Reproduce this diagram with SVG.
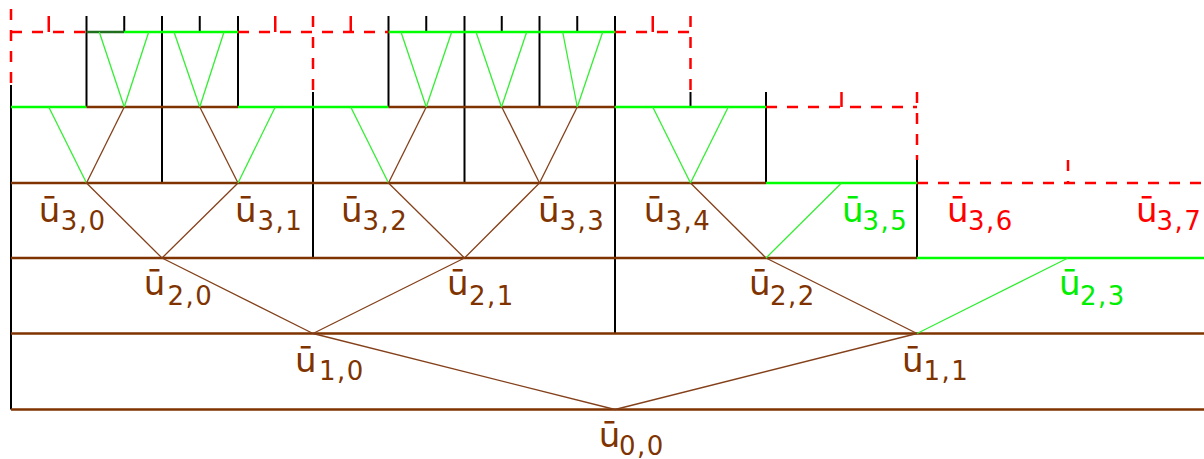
<svg xmlns="http://www.w3.org/2000/svg" width="1204" height="459" viewBox="0 0 1204 459">
<style>
.hb{stroke:#7f3300;stroke-width:2.6;fill:none}
.hg{stroke:#00ff00;stroke-width:2.6;fill:none}
.hdg{stroke:#1f6f1f;stroke-width:2.6;fill:none}
.k{stroke:#000;stroke-width:2;fill:none}
.r{stroke:#ff0000;stroke-width:2.5;fill:none;stroke-dasharray:11 10}
.rs{stroke:#ff0000;stroke-width:2.5;fill:none}
.db{stroke:#84401a;stroke-width:1.3;fill:none}
.dg{stroke:#33ee33;stroke-width:1.3;fill:none}
.t{font-family:"DejaVu Sans",Verdana,sans-serif}
.u{font-size:34px}
.s{font-size:26px;letter-spacing:1.5px}
.cb{fill:#7f3300}
.cg{fill:#00ee00}
.cr{fill:#ff0000}
</style>
<rect width="1204" height="459" fill="#fff"/>
<g id="grid">
  <line class="k" x1="11" y1="85" x2="11" y2="409.5"/>
  <line class="k" x1="86.5" y1="16" x2="86.5" y2="107"/>
  <line class="k" x1="124.25" y1="16" x2="124.25" y2="32"/>
  <line class="k" x1="162" y1="16" x2="162" y2="183"/>
  <line class="k" x1="199.75" y1="16" x2="199.75" y2="32"/>
  <line class="k" x1="238" y1="16" x2="238" y2="107"/>
  <line class="k" x1="313" y1="92" x2="313" y2="258"/>
  <line class="k" x1="388.5" y1="16" x2="388.5" y2="107"/>
  <line class="k" x1="426.25" y1="16" x2="426.25" y2="32"/>
  <line class="k" x1="464.5" y1="16" x2="464.5" y2="183"/>
  <line class="k" x1="501.75" y1="16" x2="501.75" y2="32"/>
  <line class="k" x1="539.5" y1="16" x2="539.5" y2="107"/>
  <line class="k" x1="577.25" y1="16" x2="577.25" y2="32"/>
  <line class="k" x1="615" y1="16" x2="615" y2="333.5"/>
  <line class="k" x1="690.5" y1="92" x2="690.5" y2="107"/>
  <line class="k" x1="766" y1="92" x2="766" y2="183"/>
  <line class="k" x1="917" y1="160" x2="917" y2="258"/>
  <line class="hb" x1="11" y1="409.5" x2="1204" y2="409.5"/>
  <line class="hb" x1="11" y1="333.5" x2="1204" y2="333.5"/>
  <line class="hb" x1="11" y1="258" x2="917" y2="258"/>
  <line class="hg" x1="917" y1="258" x2="1204" y2="258"/>
  <line class="hb" x1="11" y1="183" x2="766" y2="183"/>
  <line class="hg" x1="766" y1="183" x2="917" y2="183"/>
  <line class="hg" x1="11" y1="107" x2="86.5" y2="107"/>
  <line class="hb" x1="86.5" y1="107" x2="238" y2="107"/>
  <line class="hg" x1="238" y1="107" x2="388.5" y2="107"/>
  <line class="hb" x1="388.5" y1="107" x2="615" y2="107"/>
  <line class="hg" x1="615" y1="107" x2="766" y2="107"/>
  <line class="hdg" x1="86.5" y1="32" x2="124.25" y2="32"/>
  <line class="hg" x1="124.25" y1="32" x2="238" y2="32"/>
  <line class="hg" x1="388.5" y1="32" x2="615" y2="32"/>
  <line class="r" x1="11" y1="32" x2="86.5" y2="32"/>
  <line class="r" x1="11" y1="9" x2="11" y2="85"/>
  <line class="rs" x1="48.75" y1="16" x2="48.75" y2="32"/>
  <line class="r" x1="238" y1="32" x2="388.5" y2="32"/>
  <line class="rs" x1="275.25" y1="16" x2="275.25" y2="32"/>
  <line class="r" x1="313" y1="16" x2="313" y2="92"/>
  <line class="rs" x1="350.75" y1="16" x2="350.75" y2="32"/>
  <line class="r" x1="615" y1="32" x2="690.5" y2="32"/>
  <line class="rs" x1="652.75" y1="16" x2="652.75" y2="32"/>
  <line class="r" x1="690.5" y1="16" x2="690.5" y2="92"/>
  <line class="r" x1="766" y1="107" x2="917" y2="107"/>
  <line class="rs" x1="841.5" y1="92" x2="841.5" y2="107"/>
  <line class="r" x1="917" y1="92" x2="917" y2="160"/>
  <line class="r" x1="917" y1="183" x2="1204" y2="183"/>
  <line class="r" x1="1068" y1="160" x2="1068" y2="183"/>
</g>
<g id="connectors">
  <line class="db" x1="615" y1="409.5" x2="313" y2="333.5"/>
  <line class="db" x1="615" y1="409.5" x2="917" y2="333.5"/>
  <line class="db" x1="313" y1="333.5" x2="162" y2="258"/>
  <line class="db" x1="313" y1="333.5" x2="464.5" y2="258"/>
  <line class="db" x1="917" y1="333.5" x2="766" y2="258"/>
  <line class="dg" x1="917" y1="333.5" x2="1068" y2="258"/>
  <line class="db" x1="162" y1="258" x2="86.5" y2="183"/>
  <line class="db" x1="162" y1="258" x2="238" y2="183"/>
  <line class="db" x1="464.5" y1="258" x2="388.5" y2="183"/>
  <line class="db" x1="464.5" y1="258" x2="539.5" y2="183"/>
  <line class="db" x1="766" y1="258" x2="690.5" y2="183"/>
  <line class="dg" x1="766" y1="258" x2="841.5" y2="183"/>
  <line class="dg" x1="86.5" y1="183" x2="48.75" y2="107"/>
  <line class="db" x1="86.5" y1="183" x2="124.25" y2="107"/>
  <line class="db" x1="238" y1="183" x2="199.75" y2="107"/>
  <line class="dg" x1="238" y1="183" x2="275.25" y2="107"/>
  <line class="dg" x1="388.5" y1="183" x2="350.75" y2="107"/>
  <line class="db" x1="388.5" y1="183" x2="426.25" y2="107"/>
  <line class="db" x1="539.5" y1="183" x2="501.75" y2="107"/>
  <line class="db" x1="539.5" y1="183" x2="577.25" y2="107"/>
  <line class="dg" x1="690.5" y1="183" x2="652.75" y2="107"/>
  <line class="dg" x1="690.5" y1="183" x2="728.25" y2="107"/>
  <line class="dg" x1="124.25" y1="107" x2="99.3" y2="32"/>
  <line class="dg" x1="124.25" y1="107" x2="148.7" y2="32"/>
  <line class="dg" x1="199.75" y1="107" x2="174" y2="32"/>
  <line class="dg" x1="199.75" y1="107" x2="224" y2="32"/>
  <line class="dg" x1="426.25" y1="107" x2="401" y2="32"/>
  <line class="dg" x1="426.25" y1="107" x2="451.7" y2="32"/>
  <line class="dg" x1="501.5" y1="107" x2="476" y2="32"/>
  <line class="dg" x1="501.5" y1="107" x2="526.7" y2="32"/>
  <line class="dg" x1="577.3" y1="107" x2="562.7" y2="32"/>
  <line class="dg" x1="577.3" y1="107" x2="602.7" y2="32"/>
</g>
<g id="u-0-0"><text class="t cb"><tspan class="u" x="598.8" y="446.5">ū</tspan><tspan class="s" x="619" y="455">0,0</tspan></text></g>
<g id="u-1-0"><text class="t cb"><tspan class="u" x="295" y="372">ū</tspan><tspan class="s" x="319" y="380">1,0</tspan></text></g>
<g id="u-1-1"><text class="t cb"><tspan class="u" x="902" y="372">ū</tspan><tspan class="s" x="923.5" y="380">1,1</tspan></text></g>
<g id="u-2-0"><text class="t cb"><tspan class="u" x="143.8" y="295">ū</tspan><tspan class="s" x="167.4" y="305">2,0</tspan></text></g>
<g id="u-2-1"><text class="t cb"><tspan class="u" x="447" y="295">ū</tspan><tspan class="s" x="469" y="305">2,1</tspan></text></g>
<g id="u-2-2"><text class="t cb"><tspan class="u" x="749" y="295">ū</tspan><tspan class="s" x="770" y="305">2,2</tspan></text></g>
<g id="u-2-3"><text class="t cg"><tspan class="u" x="1059" y="295">ū</tspan><tspan class="s" x="1080" y="305">2,3</tspan></text></g>
<g id="u-3-0"><text class="t cb"><tspan class="u" x="38.8" y="221.5">ū</tspan><tspan class="s" x="60.7" y="230">3,0</tspan></text></g>
<g id="u-3-1"><text class="t cb"><tspan class="u" x="235" y="221.5">ū</tspan><tspan class="s" x="257.4" y="230">3,1</tspan></text></g>
<g id="u-3-2"><text class="t cb"><tspan class="u" x="341" y="221.5">ū</tspan><tspan class="s" x="362.5" y="230">3,2</tspan></text></g>
<g id="u-3-3"><text class="t cb"><tspan class="u" x="538" y="221.5">ū</tspan><tspan class="s" x="559.5" y="230">3,3</tspan></text></g>
<g id="u-3-4"><text class="t cb"><tspan class="u" x="643.8" y="221.5">ū</tspan><tspan class="s" x="665.4" y="230">3,4</tspan></text></g>
<g id="u-3-5"><text class="t cg"><tspan class="u" x="842" y="221.5">ū</tspan><tspan class="s" x="862.4" y="230">3,5</tspan></text></g>
<g id="u-3-6"><text class="t cr"><tspan class="u" x="947" y="221.5">ū</tspan><tspan class="s" x="968" y="230">3,6</tspan></text></g>
<g id="u-3-7"><text class="t cr"><tspan class="u" x="1136" y="221.5">ū</tspan><tspan class="s" x="1156.4" y="230">3,7</tspan></text></g>
</svg>
